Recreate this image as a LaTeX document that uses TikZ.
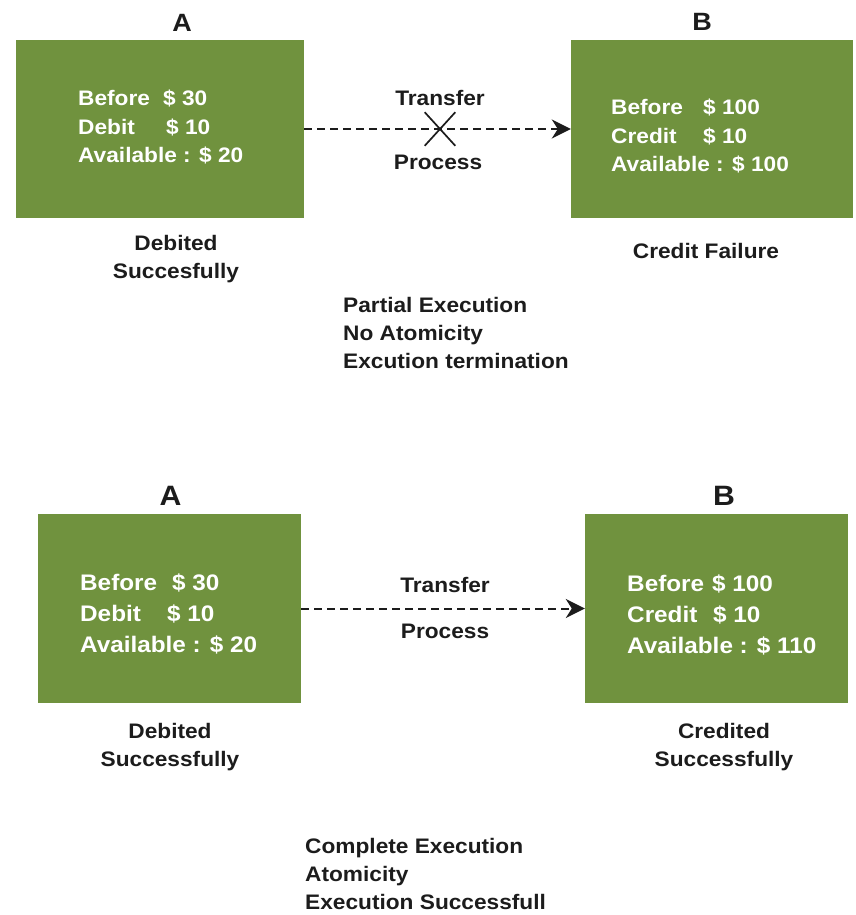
\documentclass[tikz,border=0pt]{standalone}
\usepackage{fontspec}
\setmainfont{Liberation Sans}[FakeStretch=1.08]
\usetikzlibrary{arrows.meta,shapes.misc}
\definecolor{boxgreen}{RGB}{112,146,62}
\definecolor{ink}{RGB}{28,28,28}
% rows of a left- or centre-aligned block whose baseline is its first row
\newcommand{\txtrows}[2]{\begin{tabular}[t]{@{}#1@{}}#2\end{tabular}}
% fixed-width field so the amounts line up
\newcommand{\field}[2]{\makebox[#1][l]{#2}}
\begin{document}
\begin{tikzpicture}[x=1pt,y=-1pt,
  account/.style={fill=boxgreen, draw=none, inner sep=0pt},
  topfig/.style={text=white, inner sep=0pt, anchor=base west,
    font=\bfseries\fontsize{21}{28.5}\selectfont},
  botfig/.style={text=white, inner sep=0pt, anchor=base west,
    font=\bfseries\fontsize{22.5}{31}\selectfont},
  caption/.style={text=ink, inner sep=0pt, anchor=base,
    font=\bfseries\fontsize{21}{28.5}\selectfont},
  notes/.style={text=ink, inner sep=0pt, anchor=base west,
    font=\bfseries\fontsize{21}{28}\selectfont},
  topname/.style={text=ink, inner sep=0pt, anchor=base,
    font=\bfseries\fontsize{25}{30}\selectfont},
  botname/.style={text=ink, inner sep=0pt, anchor=base,
    font=\bfseries\fontsize{28}{32}\selectfont},
  transfer/.style={draw=ink, line width=2pt, dash pattern=on 7.5pt off 5.5pt,
    -{Stealth[length=19pt,width=19pt,inset=6pt]}},
]
\useasboundingbox (0,0) rectangle (855,915);

% ---------- failed transfer ----------
\node[account, minimum width=288pt, minimum height=178pt] (topA) at (160,129) {};
\node[account, minimum width=282pt, minimum height=178pt] (topB) at (712,129) {};
\node[topname] (topAname) at (182,32) {A};
\node[topname] (topBname) at (702,31) {B};

\node[topfig] (topAtext) at (78,106) {\txtrows{l}{%
  \field{85pt}{Before}\$ 30\\
  \field{88pt}{Debit}\$ 10\\
  Available : \$ 20}};
\node[topfig] (topBtext) at (611,115) {\txtrows{l}{%
  \field{92pt}{Before}\$ 100\\
  \field{92pt}{Credit}\$ 10\\
  Available : \$ 100}};

\draw[transfer] (topA.east) -- (topB.west);
\node[cross out, draw=ink, line width=1.7pt, inner sep=0pt,
  minimum width=29pt, minimum height=32pt] (cut) at (440,129) {};
\node[caption] (topT) at (440,106) {Transfer};
\node[caption] (topP) at (438,169) {Process};

\node[caption] (topAcap) at (176,250) {\txtrows{c}{Debited\\Succesfully}};
\node[caption] (topBcap) at (706,258) {Credit Failure};
\node[notes] (topnotes) at (343,312) {\txtrows{l}{%
  Partial Execution\\No Atomicity\\Excution termination}};

% ---------- completed transfer ----------
\node[account, minimum width=263pt, minimum height=189pt] (botA) at (169.5,608.5) {};
\node[account, minimum width=263pt, minimum height=189pt] (botB) at (716.5,608.5) {};
\node[botname] (botAname) at (170.5,505) {A};
\node[botname] (botBname) at (724,505) {B};

\node[botfig] (botAtext) at (80,590) {\txtrows{l}{%
  \field{92pt}{Before}\$ 30\\
  \field{87pt}{Debit}\$ 10\\
  Available : \$ 20}};
\node[botfig] (botBtext) at (627,591) {\txtrows{l}{%
  \field{85pt}{Before}\$ 100\\
  \field{86pt}{Credit}\$ 10\\
  Available : \$ 110}};

\draw[transfer] (botA.east) -- (botB.west);
\node[caption] (botT) at (445,592) {Transfer};
\node[caption] (botP) at (445,638) {Process};

\node[caption] (botAcap) at (170,738) {\txtrows{c}{Debited\\Successfully}};
\node[caption] (botBcap) at (724,738) {\txtrows{c}{Credited\\Successfully}};
\node[notes] (botnotes) at (305,853) {\txtrows{l}{%
  Complete Execution\\Atomicity\\Execution Successfull}};
\end{tikzpicture}
\end{document}
